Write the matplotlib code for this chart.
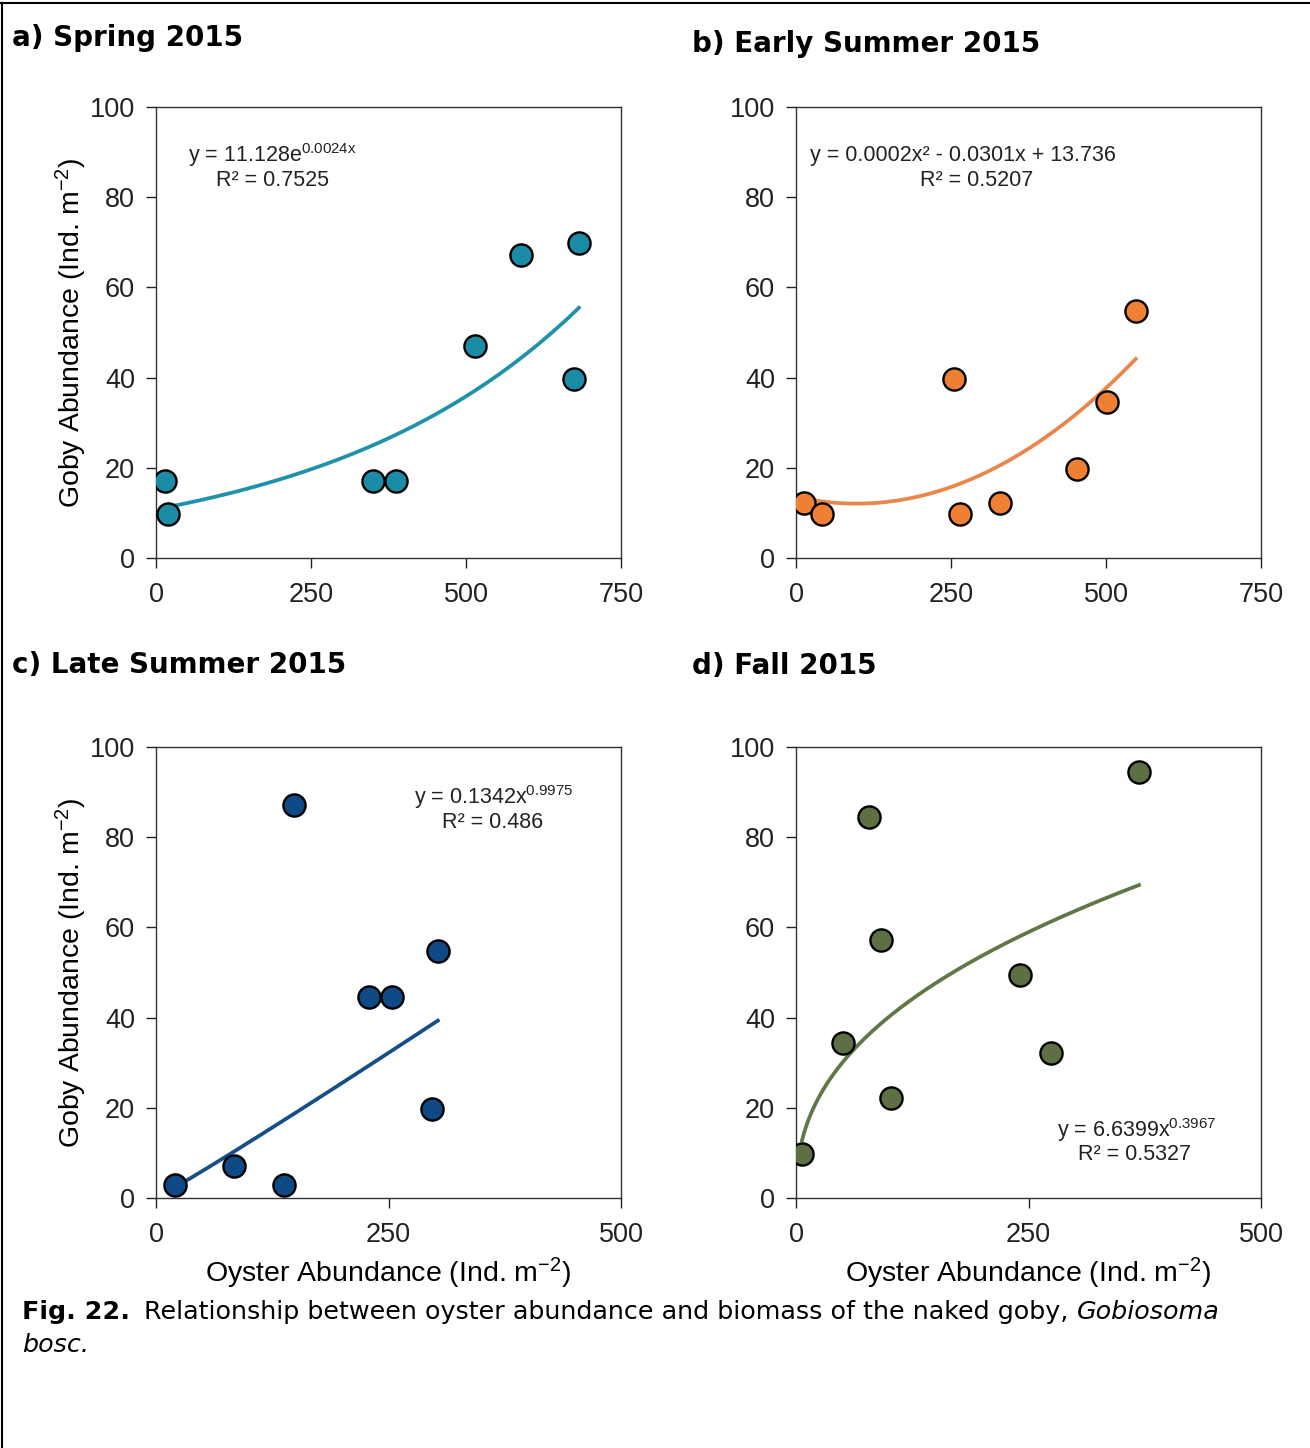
import numpy as np
import matplotlib
matplotlib.use("Agg")
import matplotlib.pyplot as plt
from matplotlib.lines import Line2D

# values
spring_x = [15, 19, 350, 387, 514, 589, 682, 674]
spring_y = [17.1, 9.8, 17.1, 17.1, 47.0, 67.2, 69.8, 39.7]

early_x = [13, 42, 255, 264, 329, 453, 502, 548]
early_y = [12.2, 9.8, 39.7, 9.8, 12.2, 19.7, 34.6, 54.8]

late_x = [20, 84, 138, 148, 229, 254, 297, 303]
late_y = [2.9, 7.1, 2.9, 87.1, 44.6, 44.6, 19.7, 54.8]

fall_x = [6.5, 50.5, 78.5, 91.4, 102.2, 240.9, 274.2, 368.8]
fall_y = [9.8, 34.4, 84.5, 57.2, 22.2, 49.4, 32.2, 94.5]

titles = ["a) Spring 2015", "b) Early Summer 2015", "c) Late Summer 2015", "d) Fall 2015"]
eq_lines = [
    ("y = 11.128e$^{\\mathregular{0.0024x}}$", "R\u00b2 = 0.7525"),
    ("y = 0.0002x\u00b2 - 0.0301x + 13.736", "R\u00b2 = 0.5207"),
    ("y = 0.1342x$^{\\mathregular{0.9975}}$", "R\u00b2 = 0.486"),
    ("y = 6.6399x$^{\\mathregular{0.3967}}$", "R\u00b2 = 0.5327"),
]
fit_kind = ["exp", "poly2", "power", "power"]
marker_colors = ["#1a8ca6", "#ef8033", "#0f4a86", "#5d7044"]
line_colors = ["#1f92aa", "#e8864c", "#154f88", "#5f7845"]
xmax = [750, 750, 500, 500]

W, H = 1310, 1448
fig = plt.figure(figsize=(W / 100, H / 100), dpi=100)
plt.rcParams['font.family'] = ['Liberation Sans', 'DejaVu Sans']
plt.rcParams['mathtext.fontset'] = 'custom'
plt.rcParams['mathtext.rm'] = 'Liberation Sans'
plt.rcParams['mathtext.it'] = 'Liberation Sans:italic'

# axes boxes in pixels: left, top
boxes = [(156, 107), (796, 107), (156, 747), (796, 747)]
aw, ah = 465, 451
eq_pos = [(272, 155), (963, 155), (494, 797), (1137, 1130)]
r2_pos = [(272, 180), (977, 180), (493, 822), (1135, 1155)]
title_pos = [(12, 38), (692, 44), (12, 665), (692, 666)]

data = [(spring_x, spring_y), (early_x, early_y), (late_x, late_y), (fall_x, fall_y)]

for i, (xs, ys) in enumerate(data):
    l, t = boxes[i]
    ax = fig.add_axes([l / W, 1 - (t + ah) / H, aw / W, ah / H])
    x = np.array(xs, float)
    y = np.array(ys, float)
    xx = np.linspace(x.min(), x.max(), 200)
    if fit_kind[i] == "exp":
        b, a = np.polyfit(x, np.log(y), 1)
        yy = np.exp(a) * np.exp(b * xx)
    elif fit_kind[i] == "poly2":
        yy = np.polyval(np.polyfit(x, y, 2), xx)
    else:
        b, a = np.polyfit(np.log(x), np.log(y), 1)
        yy = np.exp(a) * xx ** b
    ax.plot(xx, yy, color=line_colors[i], lw=2.7, zorder=2)
    ax.scatter(x, y, s=255, color=marker_colors[i], edgecolor="black",
               linewidth=1.7, zorder=3)

    ax.set_xlim(0, xmax[i])
    ax.set_ylim(0, 100)
    ax.set_xticks(np.arange(0, xmax[i] + 1, 250))
    ax.set_yticks(np.arange(0, 101, 20))
    ax.tick_params(direction="out", length=7, width=1, labelsize=19.5,
                   colors="#222222")
    ax.tick_params(axis="y", pad=8)
    ax.tick_params(axis="x", pad=10)
    for s in ax.spines.values():
        s.set_linewidth(1)
        s.set_color("#333333")

    for (px, py), txt in zip([eq_pos[i], r2_pos[i]], eq_lines[i]):
        ax.text((px - l) / aw, (t + ah - py) / ah, txt, transform=ax.transAxes,
                ha="center", va="center", fontsize=15.5, color="#222222")

    if i in (0, 2):
        ax.set_ylabel("Goby Abundance (Ind. m$^{\\mathregular{-2}}$)", fontsize=20.5,
                      labelpad=1)
    if i in (2, 3):
        ax.set_xlabel("Oyster Abundance (Ind. m$^{\\mathregular{-2}}$)", fontsize=20.5,
                      labelpad=6)

    tx, ty = title_pos[i]
    fig.text(tx / W, 1 - ty / H, titles[i], fontsize=20, fontweight="bold",
             family="DejaVu Sans", ha="left", va="center")

# caption
fig.canvas.draw()
r = fig.canvas.get_renderer()
cy = 1 - 1312 / H
t1 = fig.text(22 / W, cy, "Fig. 22.", fontsize=18.3, fontweight="bold",
              family="DejaVu Sans", ha="left", va="center")
x1 = t1.get_window_extent(r).x1 / W
t2 = fig.text(x1 + 14 / W, cy,
              "Relationship between oyster abundance and biomass of the naked goby,",
              fontsize=18.3, family="DejaVu Sans", ha="left", va="center")
x2 = t2.get_window_extent(r).x1 / W
fig.text(x2 + 8 / W, cy, "Gobiosoma", fontsize=18.3, style="italic",
         family="DejaVu Sans", ha="left", va="center")
fig.text(22 / W, 1 - 1345 / H, "bosc.", fontsize=18.3, style="italic",
         family="DejaVu Sans", ha="left", va="center")

# page frame (top and left)
fig.add_artist(Line2D([0, 1], [1 - 3 / H, 1 - 3 / H], transform=fig.transFigure,
                      color="black", lw=1.5))
fig.add_artist(Line2D([2 / W, 2 / W], [0, 1 - 3 / H], transform=fig.transFigure,
                      color="black", lw=1.5))

fig.savefig("out.png", dpi=100)
